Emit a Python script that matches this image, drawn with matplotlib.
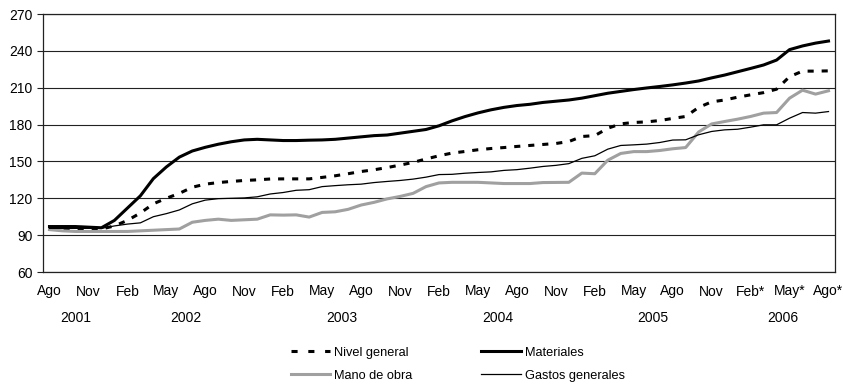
import matplotlib
matplotlib.use("Agg")
import matplotlib.pyplot as plt
import matplotlib.transforms as mtransforms
import numpy as np

plt.rcParams['font.family'] = ['Liberation Sans', 'DejaVu Sans']

# Monthly index values, Ago 2001 .. Ago 2006 (61 months)
nivel_general = [95, 95, 95, 95, 95, 97.5, 102, 108, 115.5, 120,
                 124, 129, 131.5, 132.8, 133.7, 134.5, 135, 135.7, 135.8, 135.8,
                 135.8, 137, 138.3, 140, 141.8, 143.2, 145, 147, 149.2, 152,
                 154.6, 156.8, 158.1, 159.5, 160.5, 161.3, 162.2, 163, 163.8, 164.6,
                 166.2, 170.3, 171, 177, 180.6, 181.7, 182.2, 183.3, 185, 186.6,
                 194, 198.5, 200, 202.3, 204.2, 206, 208.8, 219, 223.5, 223.5,
                 223.7]
materiales = [97, 97, 97, 96.5, 96, 102, 112, 122, 136, 145.5,
              153.5, 158.5, 161.5, 164, 166, 167.5, 168, 167.5, 167, 167,
              167.3, 167.5, 168, 169, 170, 171, 171.5, 173, 174.5, 176,
              179, 183, 186.5, 189.5, 192, 194, 195.5, 196.5, 198, 199,
              200, 201.5, 203.5, 205.5, 207, 208.5, 209.8, 211, 212.3, 213.8,
              215.5, 218, 220.3, 223, 225.7, 228.5, 232.5, 241, 244, 246.3,
              248]
mano_de_obra = [94.5, 93.5, 93, 93, 93, 93, 93, 93.5, 94, 94.5,
                95, 100.5, 102, 103, 102, 102.5, 103, 106.5, 106.3, 106.5,
                104.7, 108.5, 109, 111, 114.5, 116.7, 119.5, 121.5, 124, 129.5,
                132.5, 133, 133, 133, 132.5, 132, 132, 132, 132.8, 132.9,
                133, 140.5, 140, 151, 156.5, 158, 158, 158.9, 160.3, 161.3,
                174, 180.5, 182.5, 184.4, 186.6, 189.3, 189.8, 201.5, 208, 204.8,
                207.5]
gastos_generales = [95.5, 95.5, 95.5, 95.5, 95.5, 97.5, 99, 100, 105, 107.5,
                    110.5, 115.5, 118.5, 119.7, 120, 120.3, 121.2, 123.5, 124.7, 126.5,
                    127, 129.5, 130.3, 131, 131.5, 132.8, 133.7, 134.5, 135.6, 137.2,
                    139.3, 139.5, 140.4, 141, 141.5, 142.7, 143.3, 144.5, 145.9, 146.8,
                    148.2, 152.5, 154.6, 160, 163, 163.5, 164.1, 165.4, 167.4, 167.6,
                    171.7, 174.4, 175.7, 176.2, 177.9, 179.8, 179.8, 185.2, 189.8, 189.3,
                    190.6]

month_labels = ["Ago", "Nov", "Feb", "May", "Ago", "Nov", "Feb", "May", "Ago", "Nov",
                "Feb", "May", "Ago", "Nov", "Feb", "May", "Ago", "Nov", "Feb*", "May*",
                "Ago*"]
years = ["2001", "2002", "2003", "2004", "2005", "2006"]
year_first_month = [0, 5, 17, 29, 41, 53]   # index of first month of each year
year_last_month = [4, 16, 28, 40, 52, 60]

x = np.arange(len(materiales))

fig = plt.figure(figsize=(8.43, 3.85), dpi=100)
ax = fig.add_axes([43 / 843, 1 - 272 / 385, 792 / 843, 258 / 385])

ax.plot(x, nivel_general, color="black", lw=2.2, linestyle=(0, (2.0, 2.6)), label="Nivel general")
ax.plot(x, mano_de_obra, color="#a0a0a0", lw=2.2, label="Mano de obra")
ax.plot(x, materiales, color="black", lw=2.2, label="Materiales")
ax.plot(x, gastos_generales, color="black", lw=0.9, label="Gastos generales")

ax.set_xlim(-0.5, len(x) - 0.5)
ax.set_ylim(60, 270)
ax.set_yticks(range(60, 271, 30))
ax.yaxis.grid(True, color="#222222", lw=0.8)
ax.set_axisbelow(True)
ax.set_xticks(range(0, len(x), 3))
ax.set_xticklabels(month_labels)
ax.tick_params(axis="x", length=0, pad=9, labelsize=10)
ax.tick_params(axis="y", length=4, width=0.8, labelsize=10, color="#222222")
for s in ax.spines.values():
    s.set_color("#222222")
    s.set_linewidth(0.9)

# year group labels under the month labels
trans = mtransforms.blended_transform_factory(ax.transData, ax.transAxes)
for yr, a, b in zip(years, year_first_month, year_last_month):
    ax.text((a + b) / 2, -0.178, yr, transform=trans, ha="center", va="center", fontsize=10)

h, l = ax.get_legend_handles_labels()
leg = fig.legend(h, l, ncol=2, loc="center", bbox_to_anchor=(0.543, 0.054),
                 frameon=False, fontsize=9.2, handlelength=3.1, handletextpad=0.3,
                 columnspacing=5.4, labelspacing=0.85)
# shorter dash pattern gaps look like the reference legend key
leg.legend_handles[0].set_linestyle((0, (2.0, 3.5)))

fig.savefig("out.png", dpi=100)
